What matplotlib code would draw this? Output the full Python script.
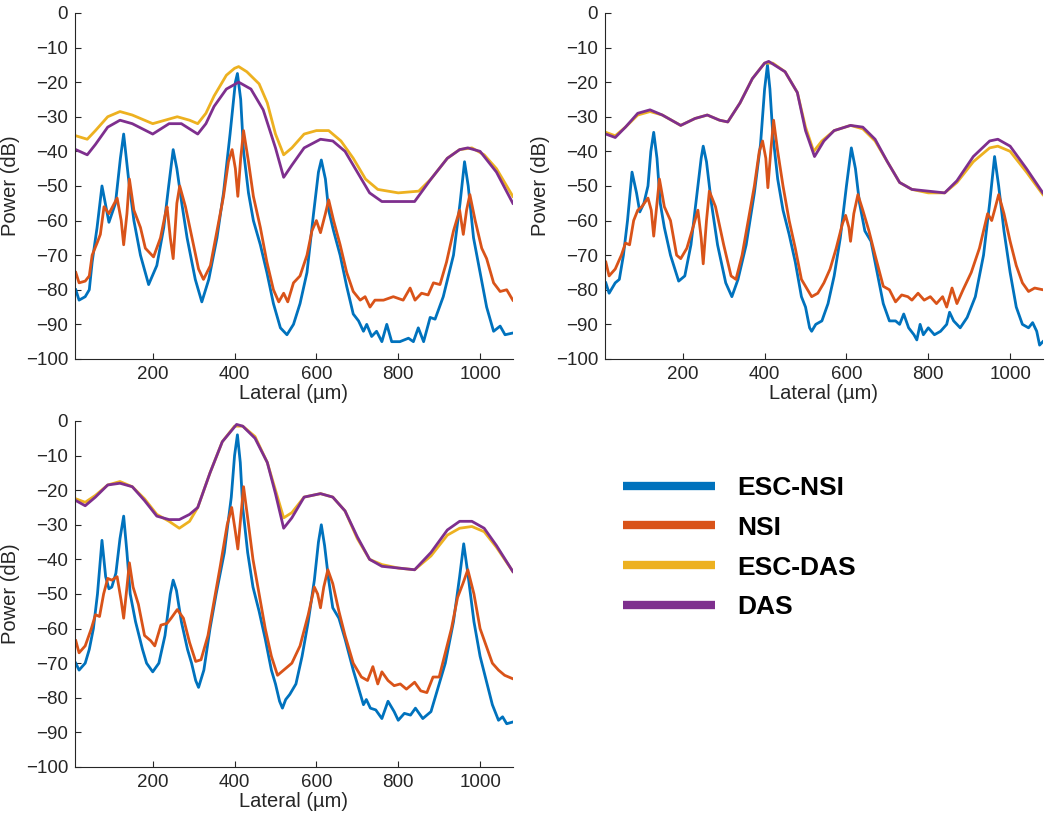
import matplotlib
matplotlib.use("Agg")
import matplotlib.pyplot as plt
from matplotlib.lines import Line2D

plt.rcParams['font.family'] = ['Liberation Sans', 'DejaVu Sans']

labels = ['ESC-NSI', 'NSI', 'ESC-DAS', 'DAS']
colors = ['#0072BD', '#D95319', '#EDB120', '#7E2F8E']

# ---- panel 1 (top left) ----
p1_esc_nsi_x = [12, 20, 35, 45, 52, 64, 76, 93, 109, 121, 129, 141, 154, 170, 190, 210, 227, 239, 250, 259, 271,
                284, 304, 320, 337, 357, 373, 389, 402, 407, 415, 422, 434, 446, 463, 479, 495, 512, 528, 544,
                560, 577, 593, 605, 612, 622, 630, 642, 658, 674, 690, 703, 715, 723, 735, 747, 760, 772, 784,
                804, 825, 837, 849, 862, 878, 890, 910, 935, 951, 962, 971, 984, 1000, 1016, 1033, 1049, 1061, 1080]
p1_esc_nsi_y = [-80, -83, -82, -80, -72, -62, -50, -60.5, -55, -42, -35, -48, -60, -70, -78.5, -73, -62, -50, -39.5,
                -45, -55, -65, -77, -83.5, -77, -65, -52, -35, -20, -17.5, -25, -40, -52, -60, -67, -75, -84, -91,
                -93, -90, -84, -75, -58, -46, -42.5, -48, -57, -63, -70, -79, -87, -89, -92, -90, -93.5, -92, -95,
                -90, -95, -95, -94, -95, -91, -95, -88, -88.5, -82, -70, -55, -43, -50, -65, -75, -85, -92, -90.5,
                -93, -92.5]
p1_nsi_x = [12, 20, 35, 45, 52, 64, 72, 81, 93, 113, 123, 129, 137, 143, 154, 170, 182, 202, 219, 231, 235, 243,
            250, 259, 266, 280, 296, 312, 324, 341, 357, 373, 385, 394, 402, 408, 415, 422, 434, 446, 463, 479, 495,
            508, 520, 530, 544, 560, 577, 589, 600, 610, 622, 630, 642, 658, 674, 690, 707, 719, 731, 743, 764, 788,
            812, 829, 841, 857, 873, 886, 902, 918, 935, 950, 959, 967, 975, 988, 1004, 1016, 1033, 1049, 1065, 1080]
p1_nsi_y = [-75, -78, -77.5, -76, -70, -66.5, -64, -56, -58, -53.5, -60, -67, -58, -48, -57, -62, -68, -70.5, -65,
            -58, -56, -65, -71, -55, -50, -56, -65, -74, -77, -73, -63, -53, -43, -39.5, -45, -53, -42, -34, -43,
            -53, -62, -72, -80, -83.5, -81, -83.5, -78, -76, -70, -63, -60, -63.5, -58, -54, -60, -67, -75, -80.5,
            -83, -82, -85, -83, -83, -82, -83, -79.5, -83, -81, -81.5, -78, -78.5, -72, -63, -57, -64, -57, -52.5,
            -60, -68, -71, -78, -80.5, -80, -83]
p1_esc_das_x = [12, 40, 60, 90, 120, 150, 200, 230, 260, 290, 310, 330, 350, 380, 400, 410, 430, 460, 480, 500,
                520, 540, 570, 600, 630, 660, 690, 720, 750, 800, 850, 880, 920, 950, 980, 1010, 1040, 1080]
p1_esc_das_y = [-35.5, -36.5, -34, -30, -28.5, -29.5, -32, -31, -30, -31, -32, -29, -24, -18, -16, -15.5, -17,
                -20.5, -26, -35, -41, -39, -35, -34, -34, -37, -42, -48, -51, -52, -51.5, -48, -42, -39.5, -39,
                -41, -45, -53]
p1_das_x = [12, 40, 60, 90, 120, 150, 200, 240, 270, 310, 330, 350, 380, 410, 440, 470, 500, 520, 540, 570, 610,
            640, 670, 700, 730, 760, 800, 840, 880, 920, 950, 970, 1000, 1040, 1080]
p1_das_y = [-39.5, -41, -38, -33, -31, -32, -35, -32, -32, -35, -32, -27, -22, -20, -22, -28, -39, -47.5, -44, -39,
            -36.5, -37, -40, -46, -52, -54.5, -54.5, -54.5, -48, -42, -39.5, -39, -40, -46, -55]

# ---- panel 2 (top right) ----
p2_esc_nsi_x = [12, 20, 35, 45, 55, 65, 76, 87, 95, 105, 115, 122, 129, 137, 145, 155, 170, 190, 205, 220, 235,
                245, 250, 258, 270, 285, 305, 320, 335, 355, 375, 390, 400, 407, 413, 420, 432, 445, 460, 475, 490,
                500, 510, 515, 525, 540, 555, 570, 585, 600, 612, 622, 632, 645, 660, 675, 690, 705, 720, 730, 740,
                752, 765, 772, 780, 788, 800, 815, 830, 845, 852, 862, 878, 895, 915, 935, 950, 962, 972, 985, 1000,
                1015, 1030, 1045, 1055, 1065, 1072, 1080]
p2_esc_nsi_y = [-78, -81, -78, -77, -70, -60, -46, -52, -57.5, -55, -50, -40, -34.5, -42, -55, -62, -70, -77.5,
                -76, -67, -52, -42, -38.5, -43, -55, -67, -78, -82, -77, -67, -52, -38, -22, -15, -22, -35, -48,
                -57, -64, -72, -82, -85, -91, -92, -90, -89, -84, -76, -65, -50, -39, -45, -55, -63, -66, -75, -84,
                -89, -89, -90, -87, -91, -93, -94.5, -90, -93, -91, -93, -92, -90, -86.5, -89, -91, -88, -82, -70,
                -55, -41.5, -50, -63, -75, -85, -90, -91, -89.5, -92, -96, -95]
p2_nsi_x = [12, 20, 35, 50, 60, 70, 80, 90, 100, 115, 123, 129, 137, 143, 155, 170, 185, 195, 210, 225, 237, 245,
            250, 258, 265, 280, 300, 318, 330, 345, 360, 375, 387, 395, 403, 408, 415, 422, 432, 445, 460, 475, 490,
            505, 515, 530, 545, 560, 575, 590, 598, 606, 610, 618, 628, 640, 655, 670, 690, 705, 720, 735, 750, 760,
            775, 790, 805, 820, 835, 845, 858, 870, 885, 905, 925, 945, 955, 962, 972, 985, 1000, 1015, 1030, 1045,
            1060, 1080]
p2_nsi_y = [-72, -76, -74, -70, -66.5, -67, -60, -57, -56, -53.5, -57, -64.5, -55, -48, -56, -60, -70, -71, -68,
            -62, -57, -65, -72.5, -60, -51.5, -56, -67, -76, -77, -70, -60, -50, -40, -37, -42, -50.5, -40, -31,
            -40, -50, -60, -68, -77, -80, -82, -81, -78, -74, -68, -61, -58.5, -62, -66, -58, -52.5, -57, -63, -70,
            -79, -80, -83.5, -81.5, -82, -83, -81, -83, -82, -84, -82, -85, -79.5, -84, -80, -75, -68, -58, -60,
            -57, -52.5, -58, -66, -73, -78, -80.5, -79.5, -80]
p2_esc_das_x = [12, 35, 60, 90, 120, 150, 195, 230, 260, 290, 310, 340, 370, 400, 420, 450, 480, 500, 520, 540,
                570, 610, 640, 670, 700, 730, 760, 800, 840, 870, 910, 950, 970, 1000, 1040, 1080]
p2_esc_das_y = [-34.5, -35.5, -33, -29.5, -28.5, -29.5, -32.5, -30.5, -29.5, -31, -31.5, -26, -19, -14.5, -14.5,
                -17, -23, -33, -40, -37, -34, -32.5, -33.5, -37, -43, -49, -51, -52, -52, -49, -43, -39, -38.5,
                -40, -46, -52.5]
p2_das_x = [12, 35, 60, 90, 120, 150, 195, 230, 260, 290, 310, 340, 370, 400, 410, 450, 480, 500, 522, 545, 570,
            610, 640, 670, 700, 730, 760, 800, 840, 870, 910, 950, 970, 1000, 1040, 1080]
p2_das_y = [-35, -36, -33, -29, -28, -29.5, -32.5, -30.5, -29.5, -31, -31.5, -26, -19, -14.5, -14, -17, -23, -34,
            -41.5, -37, -34, -32.5, -33, -36.5, -43, -49, -51, -51.5, -52, -48.5, -41.5, -37, -36.5, -38.5, -45, -52]

# ---- panel 3 (bottom left) ----
p3_esc_nsi_x = [12, 20, 35, 45, 55, 65, 76, 85, 93, 100, 110, 120, 129, 137, 145, 158, 175, 185, 200, 215, 230,
                243, 250, 258, 270, 285, 295, 305, 312, 325, 340, 355, 375, 392, 400, 407, 414, 420, 432, 445, 460,
                475, 490, 500, 510, 517, 525, 535, 550, 565, 580, 595, 605, 612, 620, 630, 640, 655, 670, 690, 705,
                715, 722, 732, 745, 760, 775, 790, 800, 815, 830, 842, 860, 880, 895, 915, 935, 950, 960, 970, 985,
                1000, 1015, 1030, 1045, 1055, 1065, 1080]
p3_esc_nsi_y = [-70, -72, -70, -66, -60, -50, -34.5, -45, -48.5, -48, -44, -34, -27.5, -38, -50, -58, -66, -70,
                -72.5, -70, -62, -50, -46, -49, -58, -66, -70, -75, -77, -72, -60, -50, -38, -22, -10, -4, -12, -25,
                -38, -48, -55, -63, -72, -76, -81, -83, -80.5, -79, -76, -68, -58, -46, -35, -30, -36, -46, -54,
                -57, -63, -72, -78, -82, -80.5, -83, -83.5, -86, -81, -84, -86.5, -84.5, -85, -83, -86, -84, -78,
                -70, -58, -45, -35.5, -44, -58, -68, -75, -82, -86.5, -85.5, -87.5, -87]
p3_nsi_x = [12, 20, 35, 50, 60, 70, 80, 90, 100, 113, 123, 129, 137, 143, 152, 165, 180, 195, 205, 220, 235, 245,
            260, 275, 290, 305, 318, 335, 350, 365, 382, 393, 402, 408, 415, 422, 432, 445, 460, 475, 490, 505, 520,
            540, 560, 580, 595, 603, 610, 618, 628, 640, 655, 670, 690, 710, 725, 738, 750, 760, 775, 790, 805, 820,
            840, 855, 870, 885, 900, 915, 930, 945, 958, 970, 985, 1000, 1015, 1030, 1045, 1060, 1080]
p3_nsi_y = [-63.5, -67, -65, -60, -56, -56.5, -50, -45.5, -46, -45, -52, -57, -48, -41, -48, -53, -62, -63.5, -65,
            -59, -58.5, -57, -54.5, -57, -64, -69.5, -69, -62, -52, -42, -30, -25, -32, -37, -28, -19, -28, -40,
            -50, -60, -68, -73.5, -72, -70, -65, -56, -48, -50, -54, -48, -43, -47, -55, -62, -70, -74, -75, -71,
            -76, -72.5, -75, -76.5, -76, -77.5, -75.5, -78, -78.5, -74, -74, -67, -60, -51, -47, -43, -50, -60,
            -65, -70, -72, -73.5, -74.5]
p3_esc_das_x = [12, 35, 60, 90, 120, 150, 180, 210, 240, 265, 290, 310, 340, 370, 400, 420, 450, 480, 500, 520,
                540, 570, 610, 640, 670, 700, 730, 760, 800, 840, 880, 920, 950, 980, 1010, 1040, 1080]
p3_esc_das_y = [-22.5, -23.5, -21.5, -18.5, -17.5, -19, -22.5, -27, -29, -31, -29, -25, -15, -6, -1.5, -1.5, -4.5,
                -12, -20, -28, -26.5, -22, -21, -22, -26, -34, -40, -41.5, -42.5, -43, -39, -33, -31, -30.5, -32,
                -36.5, -43.5]
p3_das_x = [12, 35, 60, 90, 120, 150, 180, 210, 240, 265, 290, 310, 340, 370, 405, 420, 450, 480, 500, 520, 540,
            570, 610, 640, 670, 700, 730, 760, 800, 840, 880, 920, 950, 980, 1010, 1040, 1080]
p3_das_y = [-23, -24.5, -22, -18.5, -18, -19, -23, -27.5, -28.5, -28.5, -27, -25, -15, -6, -1, -1.5, -5, -12, -21,
            -31, -28, -22, -21, -22, -26, -33.5, -40, -42, -42.5, -43, -38, -31.5, -29, -29, -31, -36, -43.5]

panels = [
    [(p1_esc_nsi_x, p1_esc_nsi_y), (p1_nsi_x, p1_nsi_y), (p1_esc_das_x, p1_esc_das_y), (p1_das_x, p1_das_y)],
    [(p2_esc_nsi_x, p2_esc_nsi_y), (p2_nsi_x, p2_nsi_y), (p2_esc_das_x, p2_esc_das_y), (p2_das_x, p2_das_y)],
    [(p3_esc_nsi_x, p3_esc_nsi_y), (p3_nsi_x, p3_nsi_y), (p3_esc_das_x, p3_esc_das_y), (p3_das_x, p3_das_y)],
]
# axes rectangles in figure fractions
rects = [[0.0714, 0.5617, 0.417, 0.4225],
         [0.5762, 0.5617, 0.417, 0.4225],
         [0.0714, 0.0635, 0.417, 0.4225]]

fig = plt.figure(figsize=(10.5, 8.19), dpi=100)
grey = '#262626'

for rect, series in zip(rects, panels):
    ax = fig.add_axes(rect)
    for (xs, ys), c in zip(series, colors):
        ax.plot(xs, ys, color=c, lw=2.0, solid_joinstyle='round')
    ax.set_xlim(10, 1080)
    ax.set_ylim(-100, 0)
    ax.set_xticks([200, 400, 600, 800, 1000])
    ax.set_yticks(range(-100, 1, 10))
    ax.spines['top'].set_visible(False)
    ax.spines['right'].set_visible(False)
    for s in ['left', 'bottom']:
        ax.spines[s].set_color(grey)
        ax.spines[s].set_linewidth(0.8)
    ax.tick_params(direction='in', length=4, width=0.8, colors=grey, labelsize=13.5, pad=5)
    ax.set_xlabel('Lateral (µm)', fontsize=14.5, color=grey, labelpad=1)
    ax.set_ylabel('Power (dB)', fontsize=14.5, color=grey, labelpad=4)

handles = [Line2D([], [], color=c, lw=6, solid_capstyle='butt') for c in colors]
fig.legend(handles, labels, loc='upper left', bbox_to_anchor=(0.5705, 0.448), frameon=False,
           prop={'weight': 'bold', 'size': 19}, handlelength=3.5, handletextpad=0.85, labelspacing=0.6)

fig.savefig('out.png', dpi=100)
